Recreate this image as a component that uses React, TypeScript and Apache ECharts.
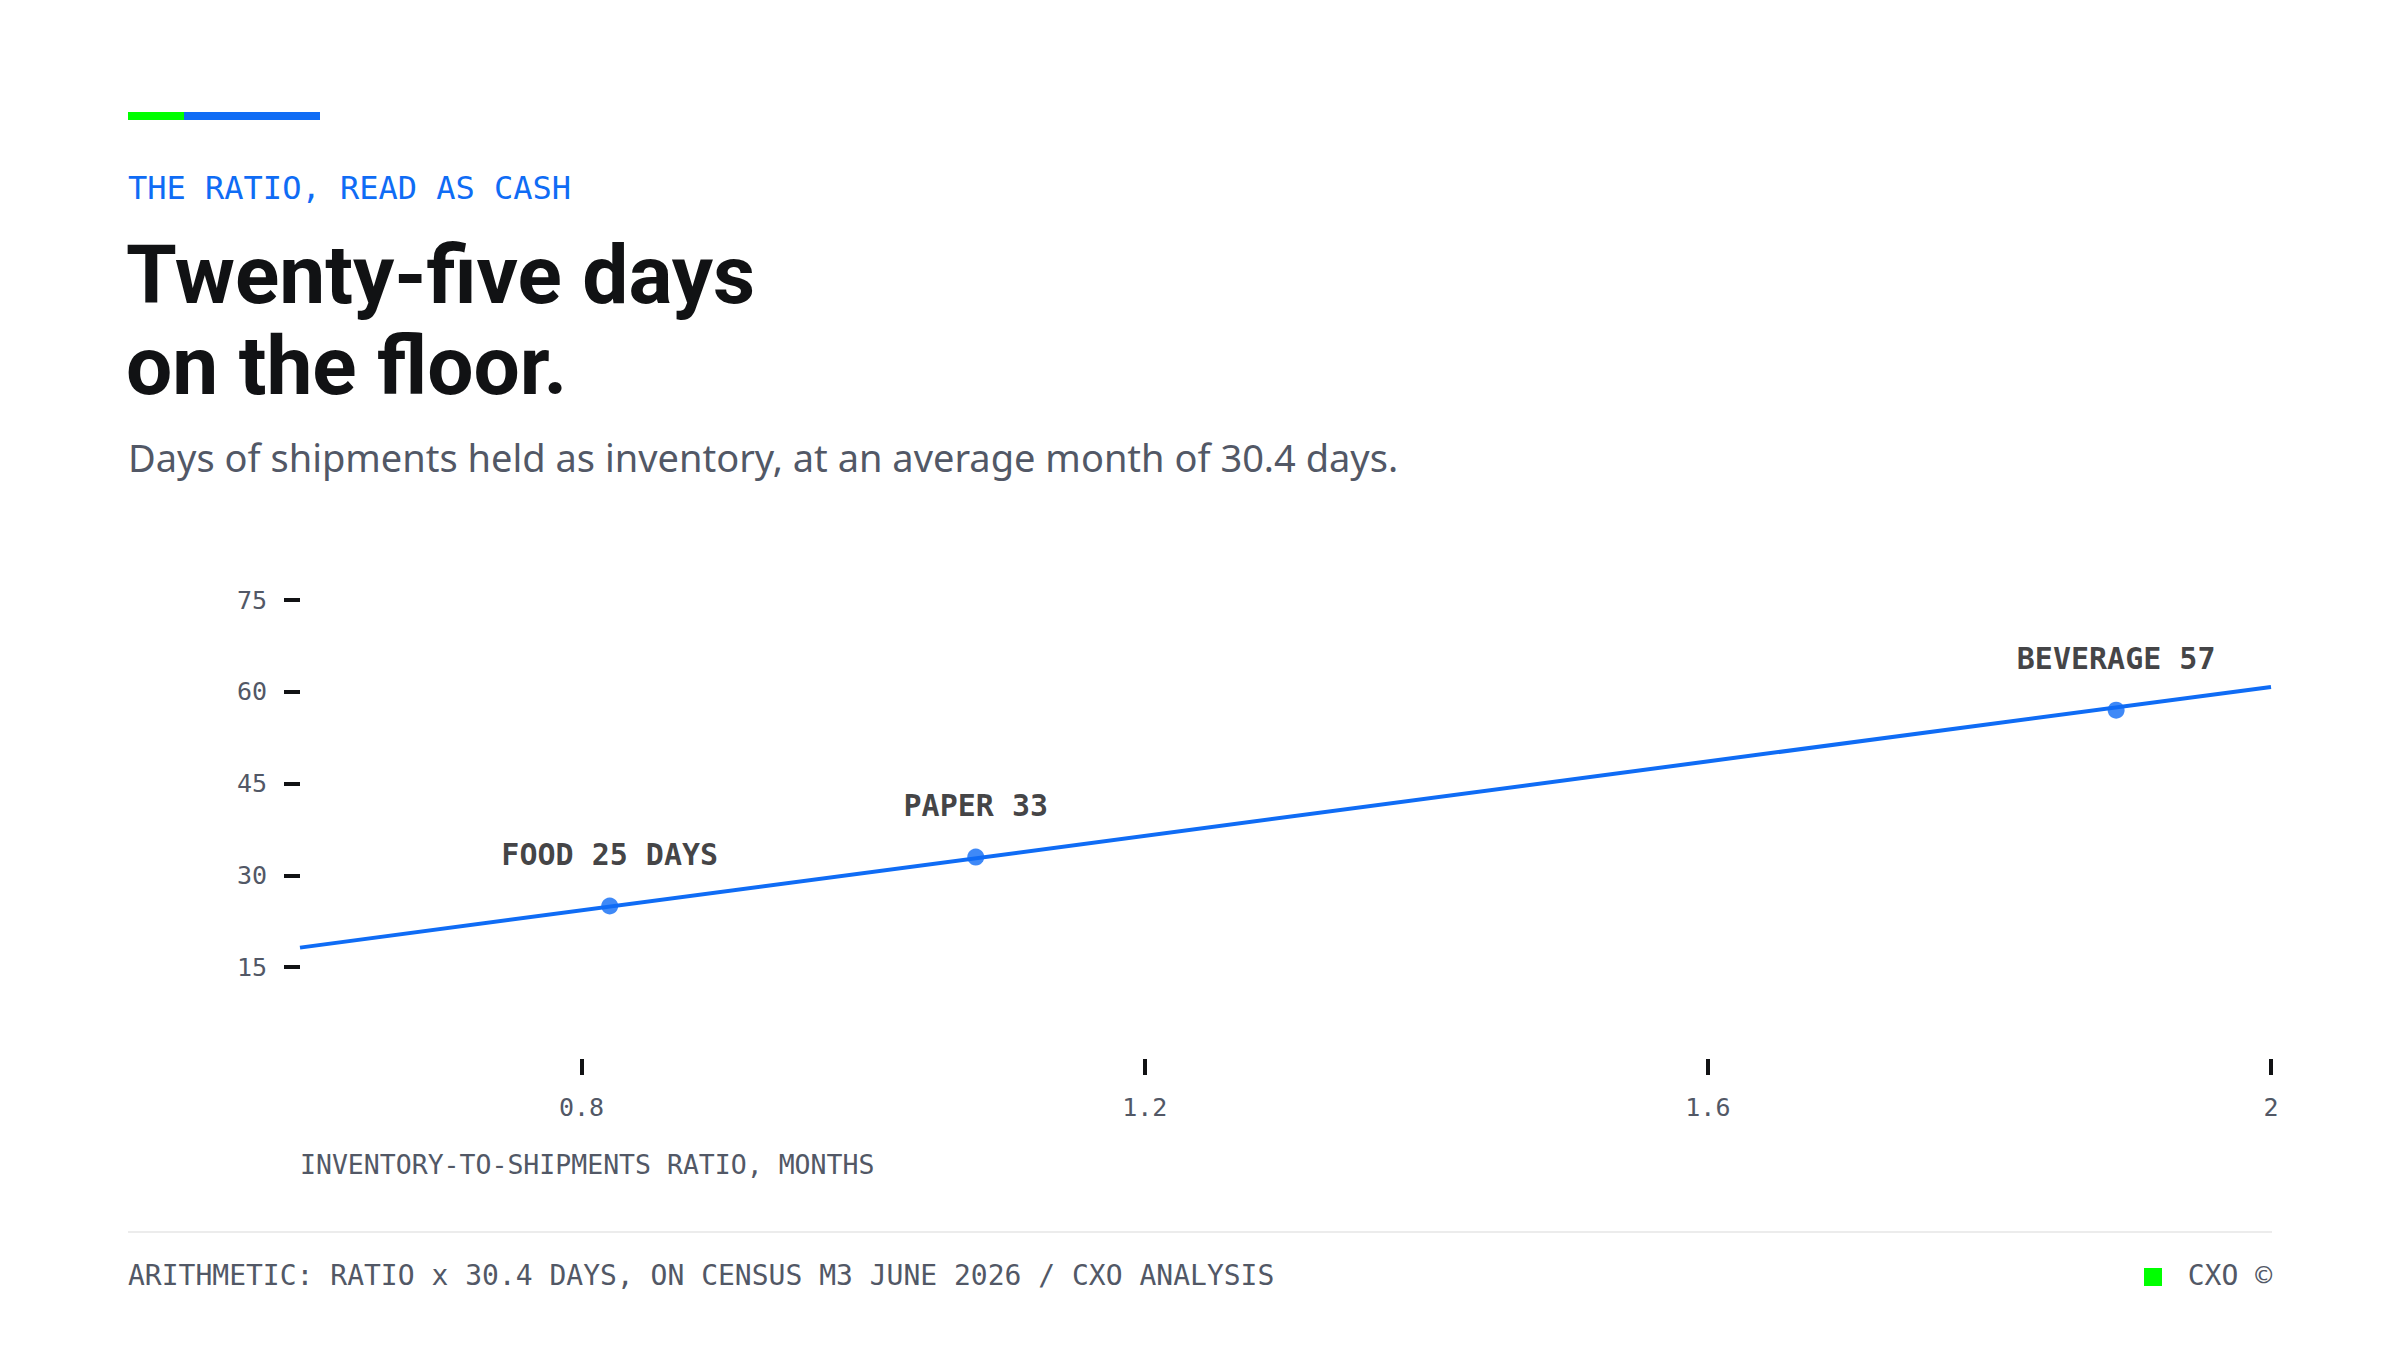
import { useEffect, useRef } from 'react';
import * as echarts from 'echarts';

// 系列データ
const lineRatios = [0.6, 2.0];
const lineDays = [18.2, 60.8];

const pointNames = ['FOOD 25 DAYS', 'PAPER 33', 'BEVERAGE 57'];
const pointRatios = [0.82, 1.08, 1.89];
const pointDays = [25, 33, 57];

const xTickValues = [0.8, 1.2, 1.6, 2];
const yTickValues = [15, 30, 45, 60, 75];

const BLUE = '#0f6cf5';
const GREEN = '#00ff00';
const INK = '#111214';
const GREY = '#525866';
const MONO = "'DejaVu Sans Mono', 'Liberation Mono', monospace";
const SANS = "Roboto, 'Liberation Sans', sans-serif";
const BODY = "'Noto Sans', 'Open Sans', sans-serif";

const App: React.FC = () => {
  const chartRef = useRef<HTMLDivElement>(null);

  useEffect(() => {
    if (!chartRef.current) return;
    const chart = echarts.init(chartRef.current, undefined, { renderer: 'svg' });

    const option: echarts.EChartsOption = {
      animation: false,
      backgroundColor: '#ffffff',
      grid: { left: 300, right: 129, top: 600, bottom: 291 },
      xAxis: {
        type: 'value',
        min: 0.6,
        max: 2.0,
        axisLine: { show: false },
        splitLine: { show: false },
        axisTick: {
          show: true,
          length: 16,
          customValues: xTickValues,
          lineStyle: { color: INK, width: 4 },
        },
        axisLabel: {
          customValues: xTickValues,
          margin: 36,
          color: GREY,
          fontFamily: MONO,
          fontSize: 25,
        },
      },
      yAxis: {
        type: 'value',
        min: 0,
        max: 75,
        interval: 15,
        axisLine: { show: false },
        splitLine: { show: false },
        axisTick: {
          show: true,
          length: 16,
          customValues: yTickValues,
          lineStyle: { color: INK, width: 4 },
        },
        axisLabel: {
          customValues: yTickValues,
          margin: 33,
          color: GREY,
          fontFamily: MONO,
          fontSize: 25,
        },
      },
      series: [
        {
          type: 'line',
          data: lineRatios.map((r, i) => [r, lineDays[i]]),
          showSymbol: false,
          lineStyle: { color: BLUE, width: 4 },
          silent: true,
          z: 2,
        },
        {
          type: 'scatter',
          data: pointRatios.map((r, i) => ({ name: pointNames[i], value: [r, pointDays[i]] })),
          symbolSize: 17,
          itemStyle: { color: BLUE },
          label: {
            show: true,
            position: 'top',
            distance: 28,
            formatter: '{b}',
            color: INK,
            fontFamily: MONO,
            fontWeight: 'bold',
            fontSize: 30,
          },
          z: 3,
        },
      ],
      graphic: [
        // アクセントバー
        { type: 'rect', shape: { x: 128, y: 112, width: 56, height: 8 }, style: { fill: GREEN } },
        { type: 'rect', shape: { x: 184, y: 112, width: 136, height: 8 }, style: { fill: BLUE } },
        {
          type: 'text',
          x: 128,
          y: 188,
          style: {
            text: 'THE RATIO, READ AS CASH',
            fill: BLUE,
            font: `32px ${MONO}`,
            align: 'left',
            verticalAlign: 'middle',
          },
        },
        {
          type: 'text',
          x: 126,
          y: 275,
          style: {
            text: 'Twenty-five days',
            fill: INK,
            font: `bold 82px ${SANS}`,
            align: 'left',
            verticalAlign: 'middle',
          },
        },
        {
          type: 'text',
          x: 126,
          y: 366,
          style: {
            text: 'on the floor.',
            fill: INK,
            font: `bold 82px ${SANS}`,
            align: 'left',
            verticalAlign: 'middle',
          },
        },
        {
          type: 'text',
          x: 128,
          y: 457,
          style: {
            text: 'Days of shipments held as inventory, at an average month of 30.4 days.',
            fill: GREY,
            font: `38px ${BODY}`,
            align: 'left',
            verticalAlign: 'middle',
          },
        },
        {
          type: 'text',
          x: 300,
          y: 1164,
          style: {
            text: 'INVENTORY-TO-SHIPMENTS RATIO, MONTHS',
            fill: GREY,
            font: `26.5px ${MONO}`,
            align: 'left',
            verticalAlign: 'middle',
          },
        },
        // フッター
        {
          type: 'line',
          shape: { x1: 128, y1: 1232, x2: 2272, y2: 1232 },
          style: { stroke: '#ececec', lineWidth: 2 },
        },
        {
          type: 'text',
          x: 128,
          y: 1275,
          style: {
            text: 'ARITHMETIC: RATIO x 30.4 DAYS, ON CENSUS M3 JUNE 2026 / CXO ANALYSIS',
            fill: GREY,
            font: `28px ${MONO}`,
            align: 'left',
            verticalAlign: 'middle',
          },
        },
        { type: 'rect', shape: { x: 2144, y: 1268, width: 18, height: 18 }, style: { fill: GREEN } },
        {
          type: 'text',
          x: 2272,
          y: 1275,
          style: {
            text: 'CXO ©',
            fill: GREY,
            font: `28px ${MONO}`,
            align: 'right',
            verticalAlign: 'middle',
          },
        },
      ],
    };

    chart.setOption(option);

    return () => {
      chart.dispose();
    };
  }, []);

  return (
    <div
      ref={chartRef}
      style={{ position: 'absolute', left: 0, top: 0, width: 2400, height: 1350, background: '#fff' }}
    />
  );
};

export default App;
